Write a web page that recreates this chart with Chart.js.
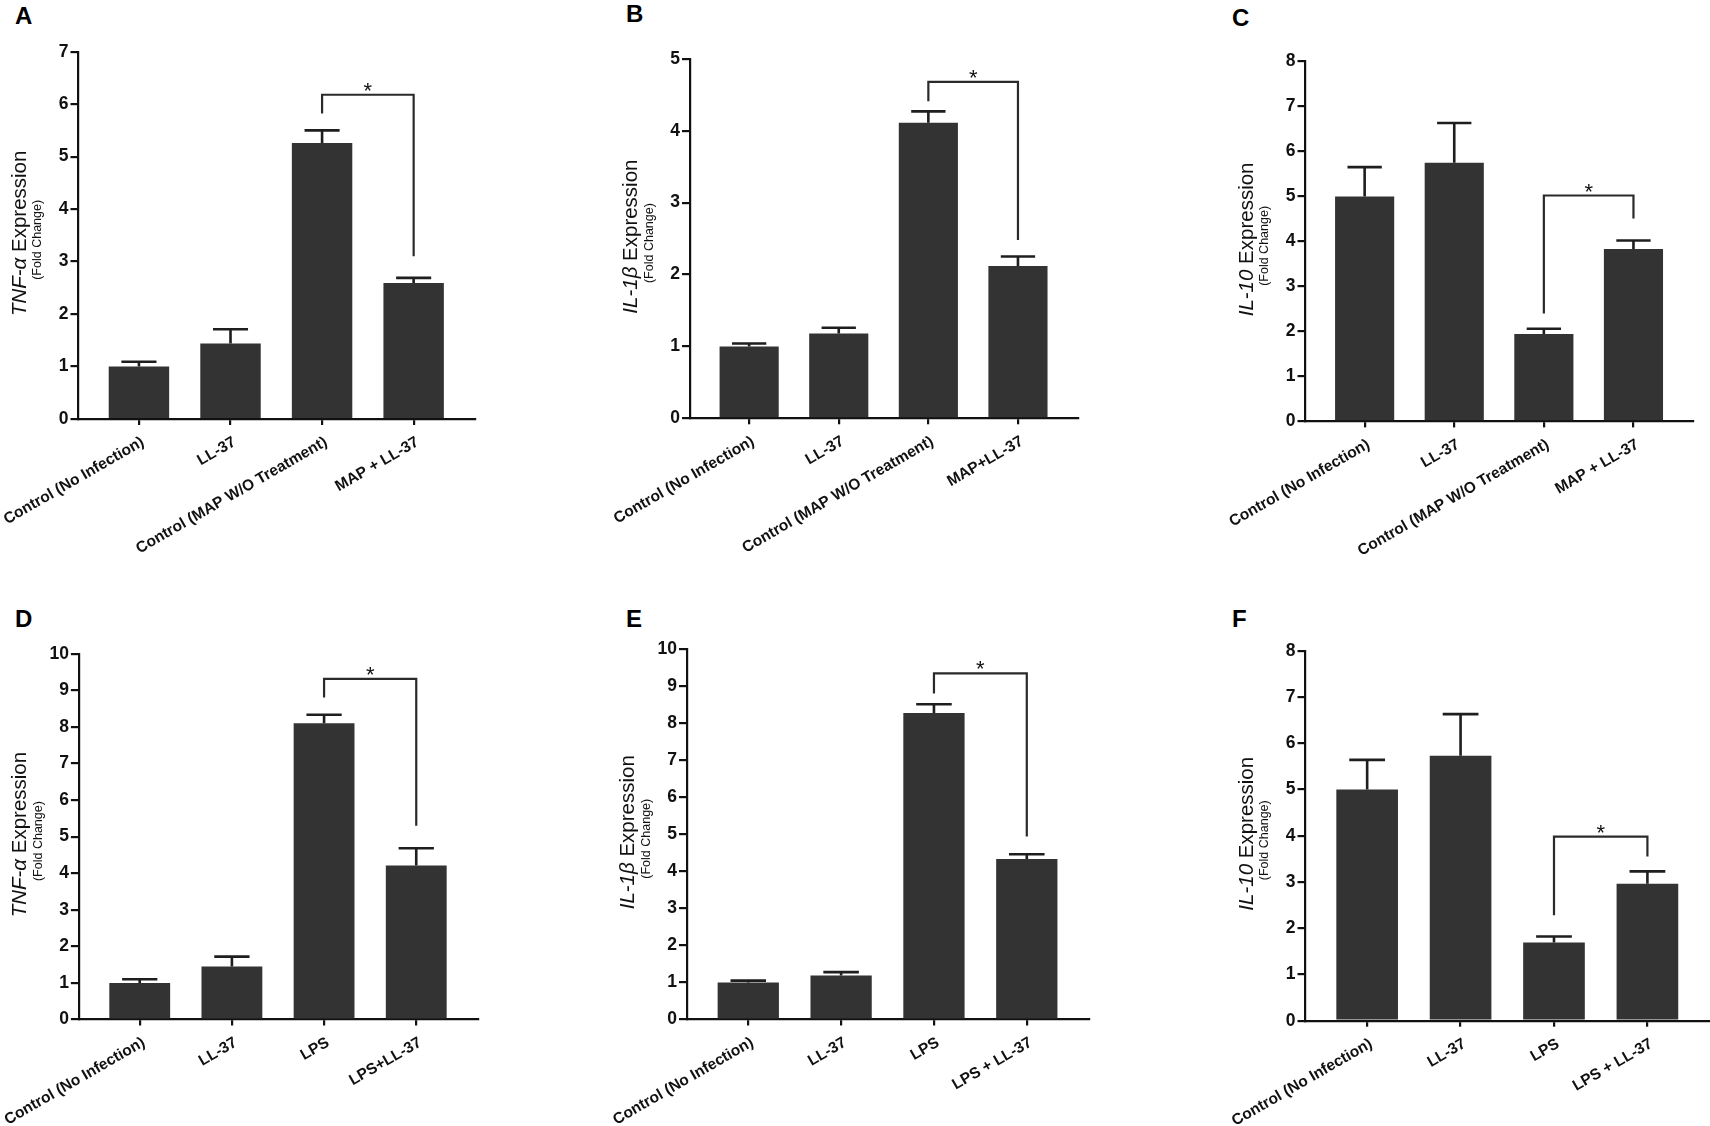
<!DOCTYPE html>
<html>
<head>
<meta charset="utf-8">
<script src="https://cdn.jsdelivr.net/npm/chart.js@4.4.1/dist/chart.umd.min.js"></script>
<style>
  body { margin: 0; background: #fff; width: 1710px; height: 1126px; position: relative; overflow: hidden; }
  canvas { position: absolute; }
  .tag { position: absolute; font: bold 24px "Liberation Sans", Arial, sans-serif; line-height: 1; color: #000; }
</style>
</head>
<body>
<div class="tag" style="left:15px;top:4px">A</div>
<div class="tag" style="left:626px;top:2px">B</div>
<div class="tag" style="left:1232px;top:6px">C</div>
<div class="tag" style="left:15px;top:607px">D</div>
<div class="tag" style="left:626px;top:607px">E</div>
<div class="tag" style="left:1232px;top:607px">F</div>

<canvas id="chartA"></canvas>
<canvas id="chartB"></canvas>
<canvas id="chartC"></canvas>
<canvas id="chartD"></canvas>
<canvas id="chartE"></canvas>
<canvas id="chartF"></canvas>

<script>
// categories
const mapGroupsA = ["Control (No Infection)", "LL-37", "Control (MAP W/O Treatment)", "MAP + LL-37"];
const mapGroupsB = ["Control (No Infection)", "LL-37", "Control (MAP W/O Treatment)", "MAP+LL-37"];
const mapGroupsC = ["Control (No Infection)", "LL-37", "Control (MAP W/O Treatment)", "MAP + LL-37"];
const lpsGroupsD = ["Control (No Infection)", "LL-37", "LPS", "LPS+LL-37"];
const lpsGroupsE = ["Control (No Infection)", "LL-37", "LPS", "LPS + LL-37"];
const lpsGroupsF = ["Control (No Infection)", "LL-37", "LPS", "LPS + LL-37"];

// fold change (mean) and upper error
const tnfMap = [1.0, 1.44, 5.26, 2.59];
const tnfMapErr = [0.09, 0.27, 0.24, 0.10];
const il1bMap = [1.0, 1.18, 4.11, 2.12];
const il1bMapErr = [0.04, 0.08, 0.16, 0.13];
const il10Map = [5.0, 5.75, 1.94, 3.83];
const il10MapErr = [0.65, 0.88, 0.12, 0.19];
const tnfLps = [1.0, 1.45, 8.10, 4.21];
const tnfLpsErr = [0.10, 0.27, 0.23, 0.47];
const il1bLps = [1.0, 1.19, 8.27, 4.33];
const il1bLpsErr = [0.05, 0.09, 0.24, 0.13];
const il10Lps = [5.0, 5.73, 1.69, 2.96];
const il10LpsErr = [0.64, 0.90, 0.13, 0.27];

// y axis maxima (ticks every 1)
const yMaxA = 7, yMaxB = 5, yMaxC = 8, yMaxD = 10, yMaxE = 10, yMaxF = 8;

// significance brackets: [from, to, bar height, left leg end, right leg end]
const sigA = [2, 3, 6.18, 5.82, 3.10];
const sigB = [2, 3, 4.68, 4.41, 2.48];
const sigC = [2, 3, 5.02, 2.40, 4.51];
const sigD = [2, 3, 9.31, 8.80, 5.30];
const sigE = [2, 3, 9.34, 8.80, 4.94];
const sigF = [2, 3, 3.98, 2.28, 3.55];

const FONT = '"Liberation Sans", Arial, sans-serif';
const INK = '#111';

function makePanel(id, box, area, gene, labels, values, errors, yMax, sig) {
    const canvas = document.getElementById(id);
    canvas.width = box.w;
    canvas.height = box.h;
    canvas.style.left = box.x + 'px';
    canvas.style.top = box.y + 'px';

    const yW = 40;
    const xH = box.y + box.h - area.bottom; // x scale takes all room below the axis

    const extras = {
        id: 'extras_' + id,
        afterDatasetsDraw(chart) {
            const ctx = chart.ctx;
            const y = chart.scales.y;
            const bars = chart.getDatasetMeta(0).data;
            ctx.save();
            ctx.strokeStyle = '#1e1e1e';
            ctx.lineWidth = 2.6;
            bars.forEach((bar, i) => {
                const top = y.getPixelForValue(values[i] + errors[i]);
                const half = bar.width * 0.29;
                ctx.beginPath();
                ctx.moveTo(bar.x, bar.y);
                ctx.lineTo(bar.x, top);
                ctx.moveTo(bar.x - half, top);
                ctx.lineTo(bar.x + half, top);
                ctx.stroke();
            });
            // bracket
            const xl = bars[sig[0]].x, xr = bars[sig[1]].x;
            const yt = y.getPixelForValue(sig[2]);
            ctx.strokeStyle = '#2a2a2a';
            ctx.lineWidth = 2.2;
            ctx.beginPath();
            ctx.moveTo(xl, y.getPixelForValue(sig[3]));
            ctx.lineTo(xl, yt);
            ctx.lineTo(xr, yt);
            ctx.lineTo(xr, y.getPixelForValue(sig[4]));
            ctx.stroke();
            ctx.fillStyle = INK;
            ctx.font = '22px ' + FONT;
            ctx.textAlign = 'center';
            ctx.textBaseline = 'alphabetic';
            ctx.fillText('*', (xl + xr) / 2, yt + 3);
            ctx.restore();
        },
        afterDraw(chart) {
            const ctx = chart.ctx;
            const a = chart.chartArea;
            const cy = (a.top + a.bottom) / 2;
            ctx.save();
            ctx.fillStyle = INK;
            ctx.textBaseline = 'middle';
            ctx.textAlign = 'left';
            // main title: italic gene + Expression
            ctx.translate(a.left - 58.5, cy - 2);
            ctx.rotate(-Math.PI / 2);
            ctx.font = 'italic 20.5px ' + FONT;
            const w1 = ctx.measureText(gene).width;
            ctx.font = '20.5px ' + FONT;
            const w2 = ctx.measureText(' Expression').width;
            const sx = -(w1 + w2) / 2;
            ctx.font = 'italic 20.5px ' + FONT;
            ctx.fillText(gene, sx, 0);
            ctx.font = '20.5px ' + FONT;
            ctx.fillText(' Expression', sx + w1, 0);
            // subtitle
            ctx.font = '12.5px ' + FONT;
            ctx.textAlign = 'center';
            ctx.fillText('(Fold Change)', -6.5, 18);
            ctx.restore();
        }
    };

    return new Chart(canvas, {
        type: 'bar',
        data: {
            datasets: [{
                data: values.map((v, i) => ({ x: i, y: v })),
                backgroundColor: '#333333',
                borderWidth: 0,
                barPercentage: 0.66,
                categoryPercentage: 1
            }]
        },
        options: {
            responsive: false,
            animation: false,
            events: [],
            layout: {
                padding: {
                    left: area.left - box.x - yW,
                    top: area.top - box.y,
                    right: box.x + box.w - area.right,
                    bottom: 0
                }
            },
            plugins: { legend: { display: false }, tooltip: { enabled: false } },
            scales: {
                x: {
                    type: 'linear',
                    min: -0.66,
                    max: 3.67,
                    offset: false,
                    afterBuildTicks: s => { s.ticks = [0, 1, 2, 3].map(v => ({ value: v })); },
                    afterFit: s => { s.height = xH; s.paddingLeft = 0; s.paddingRight = 0; },
                    ticks: {
                        autoSkip: false,
                        minRotation: 30,
                        maxRotation: 30,
                        padding: 8,
                        labelOffset: 4,
                        color: INK,
                        font: { family: FONT, size: 15.5, weight: 'bold' },
                        callback: v => labels[v]
                    },
                    grid: { offset: false, drawOnChartArea: false, drawTicks: true, tickLength: 6, color: INK, lineWidth: 2.2 },
                    border: { display: true, color: INK, width: 2.2 }
                },
                y: {
                    min: 0,
                    max: yMax,
                    afterFit: s => { s.width = yW; s.paddingTop = 0; s.paddingBottom = 0; },
                    ticks: {
                        stepSize: 1,
                        padding: 2,
                        color: INK,
                        font: { family: FONT, size: 17.5, weight: 'bold' }
                    },
                    grid: { drawOnChartArea: false, drawTicks: true, tickLength: 8, color: INK, lineWidth: 2.2 },
                    border: { display: true, color: INK, width: 2.2 }
                }
            }
        },
        plugins: [extras]
    });
}

makePanel('chartA', { x: 0, y: 0, w: 570, h: 560 }, { left: 78.5, top: 51.7, right: 475, bottom: 419 },
    'TNF-\u03B1', mapGroupsA, tnfMap, tnfMapErr, yMaxA, sigA);
makePanel('chartB', { x: 570, y: 0, w: 570, h: 560 }, { left: 690, top: 58.9, right: 1078, bottom: 418.3 },
    'IL-1\u03B2', mapGroupsB, il1bMap, il1bMapErr, yMaxB, sigB);
makePanel('chartC', { x: 1140, y: 0, w: 570, h: 560 }, { left: 1305.5, top: 61.4, right: 1693.5, bottom: 421.4 },
    'IL-10', mapGroupsC, il10Map, il10MapErr, yMaxC, sigC);
makePanel('chartD', { x: 0, y: 560, w: 570, h: 566 }, { left: 78.9, top: 653.7, right: 478, bottom: 1019.5 },
    'TNF-\u03B1', lpsGroupsD, tnfLps, tnfLpsErr, yMaxD, sigD);
makePanel('chartE', { x: 570, y: 560, w: 570, h: 566 }, { left: 687, top: 649, right: 1089, bottom: 1019.5 },
    'IL-1\u03B2', lpsGroupsE, il1bLps, il1bLpsErr, yMaxE, sigE);
makePanel('chartF', { x: 1140, y: 560, w: 570, h: 566 }, { left: 1305.5, top: 650.8, right: 1710, bottom: 1020.7 },
    'IL-10', lpsGroupsF, il10Lps, il10LpsErr, yMaxF, sigF);
</script>
</body>
</html>
